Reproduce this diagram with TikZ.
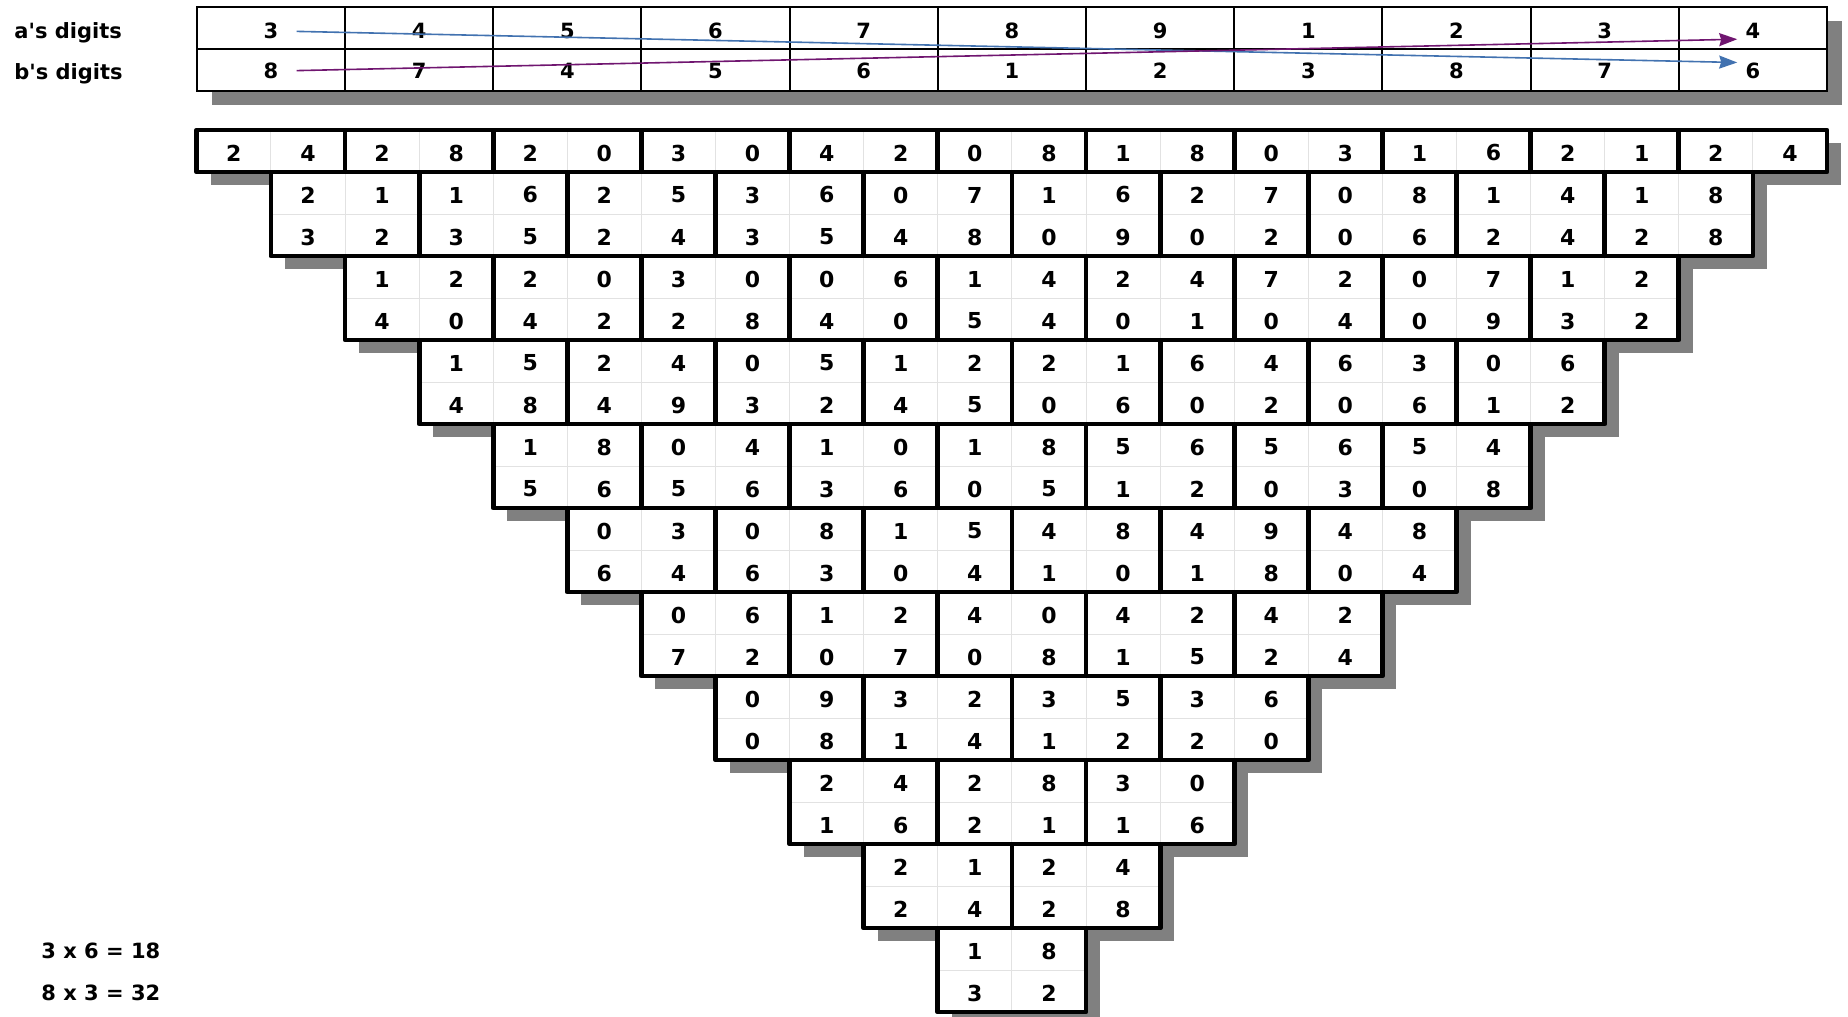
\documentclass[tikz,border=0pt]{standalone}
\usepackage{fontspec}
\setmainfont{DejaVu Sans}
\usepackage{tikz}
\usetikzlibrary{arrows.meta}
\definecolor{shadowgray}{HTML}{808080}
\definecolor{cellline}{HTML}{E2E2E2}
\definecolor{arrowblue}{RGB}{66,114,176}
\definecolor{arrowpurple}{RGB}{112,22,112}

\begin{document}
\begin{tikzpicture}[x=0.5pt,y=-0.5pt,
	digit/.style={inner sep=0pt,font=\fontsize{10.5}{12}\selectfont\bfseries},
	celldigit/.style={inner sep=0pt,font=\fontsize{11}{12}\selectfont\bfseries},
	caption/.style={inner sep=0pt,anchor=base west,font=\fontsize{10.5}{12}\selectfont\bfseries},
	tablerule/.style={black,line width=1pt},
	cellrule/.style={cellline,line width=0.5pt},
	pairbox/.style={black,line width=2.4pt,line join=round},
	crossarrow/.style={line width=0.8pt,-{Stealth[length=9pt,width=6.5pt,inset=1pt]},shorten <=9pt,shorten >=4pt}]
	\useasboundingbox (0,0) rectangle (1848,1017);
	\def\L{196.8}
	\def\w{74.1}
	\def\adigits{{3,4,5,6,7,8,9,1,2,3,4}}
	\def\bdigits{{8,7,4,5,6,1,2,3,8,7,6}}

	\fill[shadowgray] (\L+15,21) rectangle (\L+22*\w+15,104.5);
	\fill[white] (\L,7) rectangle (\L+22*\w,90.5);
	\draw[tablerule] (\L,7) rectangle (\L+22*\w,90.5);
	\draw[tablerule] (\L,49) -- (\L+22*\w,49);
	\foreach \i in {1,...,10}
		\draw[tablerule] ({\L+2*\w*\i},7) -- ({\L+2*\w*\i},90.5);
	\foreach \i in {0,...,10} {
		\pgfmathtruncatemacro\da{\adigits[\i]}
		\pgfmathtruncatemacro\db{\bdigits[\i]}
		\node[digit] (a\i) at ({\L+\w*(2*\i+1)},31) {\da};
		\node[digit] (b\i) at ({\L+\w*(2*\i+1)},71) {\db};
	}
	\node[caption] (alabel) at (14,38.3) {a\textquotesingle s digits};
	\node[caption] (blabel) at (14,79.3) {b\textquotesingle s digits};
	\draw[crossarrow,arrowblue] (a0.east) -- (b10.north west);
	\draw[crossarrow,arrowpurple] (b0.east) -- (a10.south west);

	\fill[shadowgray] (\L+14,143) rectangle (\L+22*\w+14,185);
	\foreach \k in {1,...,10}
		\fill[shadowgray] ({\L+\w*\k+14},{101+84*\k}) rectangle ({\L+\w*(22-\k)+14},{185+84*\k});

	\fill[white] (\L,130) rectangle (\L+22*\w,172);
	\foreach \j in {0,...,10} {
		\draw[cellrule] ({\L+\w*(2*\j+1)},130) -- ({\L+\w*(2*\j+1)},172);
		\draw[pairbox] ({\L+2*\w*\j},130) rectangle ({\L+2*\w*(\j+1)},172);
		\pgfmathtruncatemacro\p{\adigits[\j]*\bdigits[\j]}
		\pgfmathtruncatemacro\tens{int(\p/10)}
		\pgfmathtruncatemacro\ones{mod(\p,10)}
		\node[celldigit] (p0-\j-1) at ({\L+\w*(2*\j+0.5)},153) {\tens};
		\node[celldigit] (p0-\j-2) at ({\L+\w*(2*\j+1.5)},153) {\ones};
	}

	\foreach \k in {1,...,10} {
		\pgfmathtruncatemacro\last{10-\k}
		\fill[white] ({\L+\w*\k},{88+84*\k}) rectangle ({\L+\w*(22-\k)},{172+84*\k});
		\draw[cellrule] ({\L+\w*\k},{130+84*\k}) -- ({\L+\w*(22-\k)},{130+84*\k});
		\foreach \j in {0,...,\last} {
			\draw[cellrule] ({\L+\w*(\k+2*\j+1)},{88+84*\k}) -- ({\L+\w*(\k+2*\j+1)},{172+84*\k});
			\draw[pairbox] ({\L+\w*(\k+2*\j)},{88+84*\k}) rectangle ({\L+\w*(\k+2*\j+2)},{172+84*\k});
			\pgfmathtruncatemacro\pt{\adigits[\j]*\bdigits[\j+\k]}
			\pgfmathtruncatemacro\pb{\bdigits[\j]*\adigits[\j+\k]}
			\pgfmathtruncatemacro\ttens{int(\pt/10)}
			\pgfmathtruncatemacro\tones{mod(\pt,10)}
			\pgfmathtruncatemacro\btens{int(\pb/10)}
			\pgfmathtruncatemacro\bones{mod(\pb,10)}
			\node[celldigit] (p\k-\j-1) at ({\L+\w*(\k+2*\j+0.5)},{111+84*\k}) {\ttens};
			\node[celldigit] (p\k-\j-2) at ({\L+\w*(\k+2*\j+1.5)},{111+84*\k}) {\tones};
			\node[celldigit] (p\k-\j-3) at ({\L+\w*(\k+2*\j+0.5)},{153+84*\k}) {\btens};
			\node[celldigit] (p\k-\j-4) at ({\L+\w*(\k+2*\j+1.5)},{153+84*\k}) {\bones};
		}
	}

	\node[caption,anchor=west] (eqtop) at (41,951) {3 x 6 = 18};
	\node[caption,anchor=west] (eqbottom) at (41,993) {8 x 3 = 32};
\end{tikzpicture}
\end{document}
